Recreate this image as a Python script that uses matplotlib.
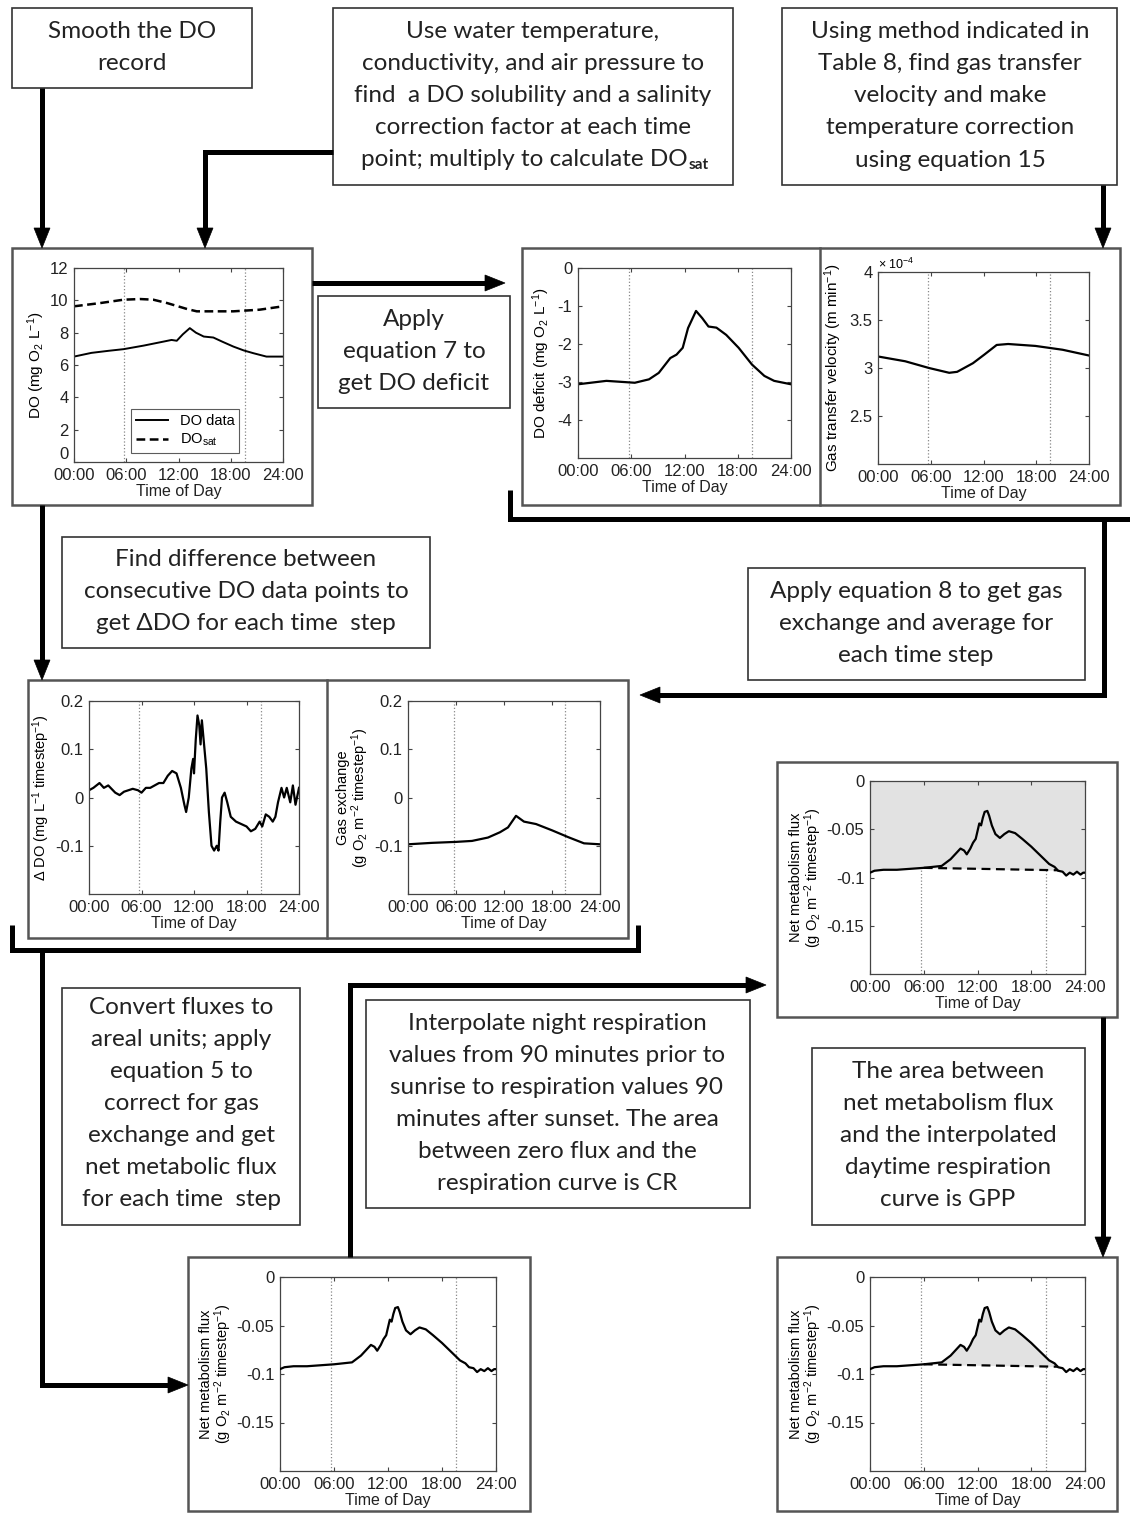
import numpy as np
import matplotlib
matplotlib.use('Agg')
import matplotlib.pyplot as plt
from matplotlib.patches import Rectangle, Polygon
from matplotlib.ticker import FuncFormatter

#=======================================
# Data
#=======================================
hour_ticks = [0, 6, 12, 18, 24]
hour_labels = ['00:00', '06:00', '12:00', '18:00', '24:00']
sun_t = [5.7, 19.6]   # sunrise / sunset dotted lines

# DO record and DO saturation (mg O2 / L)
do_t = [0, 2, 4, 5.7, 8, 10.3, 11.2, 11.8, 12.5, 13.3, 14, 14.9, 16, 17, 18.3, 19.5, 20.6, 22.1, 24]
do_v = [6.52, 6.75, 6.88, 6.98, 7.2, 7.45, 7.55, 7.5, 7.9, 8.28, 8.0, 7.76, 7.7, 7.45, 7.14, 6.9, 6.73, 6.52, 6.52]
sat_t = [0, 3, 5.7, 7.6, 9.1, 10.7, 13, 14.1, 18.3, 21.3, 24]
sat_v = [9.63, 9.83, 10.04, 10.08, 10.04, 9.83, 9.46, 9.32, 9.32, 9.42, 9.63]

# DO deficit (mg O2 / L)
df_t = [0, 3.2, 6.4, 8, 9.1, 10.4, 11.1, 11.8, 12.4, 13.3, 14, 14.7, 15.6, 16.7, 18.1, 19.6, 21, 22.1, 24]
df_v = [-3.06, -2.97, -3.02, -2.93, -2.76, -2.37, -2.28, -2.10, -1.58, -1.13, -1.32, -1.54, -1.57, -1.76, -2.10, -2.54, -2.84, -2.97, -3.06]

# gas transfer velocity (m / min)
k_t = [0, 3.1, 5.8, 8.1, 9, 10.8, 12.1, 13.5, 14.8, 17.9, 21, 24]
k_v = [3.12e-4, 3.07e-4, 3.00e-4, 2.95e-4, 2.96e-4, 3.05e-4, 3.14e-4, 3.24e-4, 3.25e-4, 3.23e-4, 3.19e-4, 3.13e-4]

# delta DO per timestep
dd_t = [0, 0.5, 1.2, 1.7, 2.2, 3, 3.5, 4, 5, 5.6, 6, 6.5, 7, 7.5, 8, 8.5, 9, 9.5, 10, 10.5,
        10.9, 11.1, 11.4, 11.7, 11.9, 12.0, 12.2, 12.4, 12.6, 12.75, 12.9, 13.1, 13.4, 13.7, 14.0,
        14.3, 14.6, 14.8, 15.0, 15.2, 15.5, 15.8, 16.2, 16.8, 17.4, 18.0, 18.5, 19.0, 19.5, 19.8,
        20.2, 20.6, 21.0, 21.3, 21.6, 22.0, 22.3, 22.6, 23.0, 23.3, 23.6, 24.0]
dd_v = [0.015, 0.02, 0.03, 0.02, 0.025, 0.01, 0.005, 0.012, 0.018, 0.015, 0.01, 0.02, 0.02, 0.025, 0.03, 0.03, 0.045, 0.055, 0.05, 0.02,
        -0.015, -0.03, 0.0, 0.06, 0.08, 0.05, 0.12, 0.17, 0.15, 0.11, 0.16, 0.12, 0.06, -0.03, -0.10,
        -0.11, -0.10, -0.11, -0.05, 0.0, 0.01, -0.01, -0.04, -0.05, -0.055, -0.06, -0.07, -0.065, -0.05, -0.06,
        -0.035, -0.04, -0.05, -0.04, -0.01, 0.02, 0.0, 0.02, -0.01, 0.025, -0.015, 0.02]

# gas exchange (g O2 / m2 / timestep)
ge_t = [0, 3, 6, 8, 10, 11.5, 12.5, 13.5, 14.5, 16, 18, 20, 22, 24]
ge_v = [-0.097, -0.094, -0.092, -0.090, -0.083, -0.072, -0.062, -0.038, -0.050, -0.055, -0.068, -0.082, -0.095, -0.097]

# net metabolism flux (g O2 / m2 / timestep)
nf_t = [0, 0.5, 1.5, 3, 4.5, 6, 7, 8, 9, 9.6, 10.1, 10.5, 10.8, 11.2, 11.5, 11.8, 12.0, 12.2, 12.4, 12.6,
        12.8, 13.1, 13.3, 13.6, 14.0, 14.5, 15.0, 15.5, 16.2, 17, 18, 19, 20, 20.6, 21.0, 21.5, 21.9,
        22.3, 22.7, 23.1, 23.5, 23.8, 24]
nf_v = [-0.095, -0.093, -0.092, -0.092, -0.091, -0.090, -0.089, -0.088, -0.081, -0.075, -0.070, -0.072, -0.076, -0.070, -0.064, -0.060, -0.052, -0.044, -0.046, -0.038,
        -0.032, -0.031, -0.036, -0.046, -0.055, -0.059, -0.055, -0.052, -0.054, -0.060, -0.068, -0.077, -0.086, -0.089, -0.093, -0.094, -0.098,
        -0.095, -0.097, -0.094, -0.097, -0.095, -0.095]

# interpolated daytime respiration (dashed line)
rs_t = [6.0, 21.0]
rs_v = [-0.0900, -0.0925]

#=======================================
# Figure setup
#=======================================
W, H = 1130, 1513
plt.rcParams['font.family'] = 'Liberation Sans'
plt.rcParams['mathtext.fontset'] = 'custom'
plt.rcParams['mathtext.rm'] = 'Liberation Sans'
plt.rcParams['mathtext.it'] = 'Liberation Sans:italic'
plt.rcParams['mathtext.default'] = 'regular'

fig = plt.figure(figsize=(W / 100, H / 100), dpi=100)
bg = fig.add_axes([0, 0, 1, 1])
bg.set_xlim(0, W)
bg.set_ylim(H, 0)
bg.axis('off')

BOX_FONT = 'Lato'
BOX_SIZE = 17.5
TXT = '#222222'


def frame(x0, y0, x1, y1, lw=1.2, ec='#333333'):
    bg.add_patch(Rectangle((x0, y0), x1 - x0, y1 - y0, fill=False, ec=ec, lw=lw))


def box_text(cx, y_first, lines, step=32.3, size=BOX_SIZE):
    out = []
    for i, s in enumerate(lines):
        out.append(bg.text(cx, y_first + i * step, s, ha='center', va='center',
                           fontsize=size, family=BOX_FONT, color=TXT))
    return out


def path(pts, head=True, lw=3.6):
    pts = [list(p) for p in pts]
    if head:
        (xa, ya), (xb, yb) = pts[-2], pts[-1]
        d = np.hypot(xb - xa, yb - ya)
        ux, uy = (xb - xa) / d, (yb - ya) / d
        L, hw = 20, 8
        bx, by = xb - ux * L, yb - uy * L
        bg.add_patch(Polygon([(xb, yb), (bx - uy * hw, by + ux * hw), (bx + uy * hw, by - ux * hw)],
                             closed=True, fc='k', ec='k', lw=0.5))
        pts[-1] = [bx + ux * 2, by + uy * 2]
    xs, ys = zip(*pts)
    bg.plot(xs, ys, color='k', lw=lw, solid_capstyle='butt', solid_joinstyle='miter')


def plot_ax(x0, y0, x1, y1):
    ax = fig.add_axes([x0 / W, 1 - y1 / H, (x1 - x0) / W, (y1 - y0) / H])
    ax.set_xlim(0, 24)
    ax.set_xticks(hour_ticks)
    ax.set_xticklabels(hour_labels)
    ax.tick_params(direction='in', top=True, right=True, labelsize=12, length=3,
                   pad=4, color='#444444', labelcolor='#222222')
    for sp in ax.spines.values():
        sp.set_color('#444444')
        sp.set_linewidth(0.9)
    ax.set_xlabel('Time of Day', fontsize=11.5, labelpad=1, color='#222222')
    for t in sun_t:
        ax.axvline(t, color='#888888', ls=':', lw=0.9, zorder=0)
    ax.yaxis.set_major_formatter(FuncFormatter(lambda v, p: '%g' % v))
    return ax


#=======================================
# Text boxes
#=======================================
frame(12, 8, 252, 88)
box_text(132, 32, ['Smooth the DO', 'record'], step=31)

frame(333, 8, 733, 185)
box_text(533, 31, ['Use water temperature,',
                   'conductivity, and air pressure to',
                   'find  a DO solubility and a salinity',
                   'correction factor at each time'])
last = bg.text(524, 160, 'point; multiply to calculate DO', ha='center', va='center',
               fontsize=BOX_SIZE, family=BOX_FONT, color=TXT)
bg.annotate('sat', xy=(1, 0), xycoords=last, xytext=(1, -1), textcoords='offset points',
            fontsize=11, family=BOX_FONT, weight='bold', color=TXT, ha='left', va='bottom')

frame(782, 8, 1117, 185)
box_text(950, 31, ['Using method indicated in', 'Table 8, find gas transfer',
                   'velocity and make', 'temperature correction', 'using equation 15'])

frame(318, 296, 510, 408)
box_text(414, 320, ['Apply', 'equation 7 to', 'get DO deficit'], step=31.5)

frame(62, 537, 430, 648)
box_text(246, 560, ['Find difference between', 'consecutive DO data points to',
                    'get \u0394DO for each time  step'], step=32)

frame(748, 568, 1085, 680)
box_text(916, 592, ['Apply equation 8 to get gas', 'exchange and average for',
                    'each time step'], step=32)

frame(62, 988, 300, 1225)
box_text(181, 1008, ['Convert fluxes to', 'areal units; apply', 'equation 5 to',
                     'correct for gas', 'exchange and get', 'net metabolic flux',
                     'for each time  step'], step=32)

frame(366, 1000, 750, 1208)
box_text(557, 1024, ['Interpolate night respiration', 'values from 90 minutes prior to',
                     'sunrise to respiration values 90', 'minutes after sunset. The area',
                     'between zero flux and the', 'respiration curve is CR'], step=32)

frame(812, 1048, 1085, 1225)
box_text(948, 1072, ['The area between', 'net metabolism flux', 'and the interpolated',
                     'daytime respiration', 'curve is GPP'], step=32)

#=======================================
# Panel frames
#=======================================
PF = dict(lw=1.8, ec='#555555')
frame(12, 248, 312, 505, **PF)
frame(522, 248, 1120, 505, **PF)
bg.plot([820, 820], [248, 505], color='#555555', lw=1.8)
frame(28, 680, 628, 938, **PF)
bg.plot([327, 327], [680, 938], color='#555555', lw=1.8)
frame(777, 762, 1117, 1017, **PF)
frame(188, 1257, 530, 1511, **PF)
frame(777, 1257, 1117, 1511, **PF)

#=======================================
# Arrows and brackets
#=======================================
path([(42, 88), (42, 248)])
path([(333, 152), (205, 152), (205, 248)])
path([(1103, 185), (1103, 248)])
path([(312, 283), (505, 283)])
path([(42, 505), (42, 680)])
path([(510, 490), (510, 519), (1130, 519)], head=False)
path([(1104, 519), (1104, 695), (640, 695)])
path([(12, 925), (12, 950), (638, 950), (638, 925)], head=False)
path([(42, 950), (42, 1385), (188, 1385)])
path([(350, 1257), (350, 985), (766, 985)])
path([(1103, 1017), (1103, 1257)])

#=======================================
# Plots
#=======================================
# DO and DO_sat
ax = plot_ax(74, 268, 283, 462)
ax.plot(do_t, do_v, color='k', lw=1.4, label='DO data')
ax.plot(sat_t, sat_v, color='k', lw=1.8, ls=(0, (3.5, 1.8)), label='DO$_{sat}$')
ax.set_ylim(0, 12)
ax.set_yticks([0, 2, 4, 6, 8, 10, 12])
ax.set_ylabel('DO (mg O$_2$ L$^{-1}$)', fontsize=11, labelpad=2)
fig.canvas.draw()
ax.get_yticklabels()[0].set_va('bottom')
leg = ax.legend(loc='lower left', bbox_to_anchor=(0.24, 0.01), fontsize=10.5, frameon=True,
                fancybox=False, handlelength=2.2, borderpad=0.3, labelspacing=0.3)
leg.get_frame().set_edgecolor('#333333')
leg.get_frame().set_linewidth(0.8)

# DO deficit
ax = plot_ax(578, 268, 791, 458)
ax.plot(df_t, df_v, color='k', lw=1.6)
ax.set_ylim(-5, 0)
ax.set_yticks([-4, -3, -2, -1, 0])
ax.set_ylabel('DO deficit (mg O$_2$ L$^{-1}$)', fontsize=11, labelpad=4)

# gas transfer velocity
ax = plot_ax(878, 272, 1089, 464)
ax.plot(k_t, k_v, color='k', lw=1.6)
ax.set_ylim(2e-4, 4e-4)
ax.set_yticks([2.5e-4, 3e-4, 3.5e-4, 4e-4])
ax.yaxis.set_major_formatter(FuncFormatter(lambda v, p: '%g' % round(v * 1e4, 3)))
ax.set_ylabel('Gas transfer velocity (m min$^{-1}$)', fontsize=11, labelpad=4)
ax.text(0.0, 1.0, '\u00d7 10$^{-4}$', transform=ax.transAxes, fontsize=9, ha='left', va='bottom')

# delta DO
ax = plot_ax(89, 701, 299, 894)
ax.plot(dd_t, dd_v, color='k', lw=1.6)
ax.set_ylim(-0.2, 0.2)
ax.set_yticks([-0.1, 0, 0.1, 0.2])
ax.set_ylabel('\u0394 DO (mg L$^{-1}$ timestep$^{-1}$)', fontsize=10.5, labelpad=2)

# gas exchange
ax = plot_ax(408, 701, 600, 894)
ax.plot(ge_t, ge_v, color='k', lw=1.6)
ax.set_ylim(-0.2, 0.2)
ax.set_yticks([-0.1, 0, 0.1, 0.2])
ax.set_ylabel('Gas exchange\n(g O$_2$ m$^{-2}$ timestep$^{-1}$)', fontsize=10.5, labelpad=2,
              linespacing=0.95)

# net metabolism panels
grid = np.linspace(0, 24, 1200)
flux_g = np.interp(grid, nf_t, nf_v)
day = (grid >= rs_t[0]) & (grid <= rs_t[1])
resp_g = np.where(day, np.interp(grid, rs_t, rs_v), flux_g)
NET_LABEL = 'Net metabolism flux\n(g O$_2$ m$^{-2}$ timestep$^{-1}$)'


def net_panel(x0, y0, x1, y1, mode):
    ax = plot_ax(x0, y0, x1, y1)
    if mode == 'cr':
        ax.fill_between(grid, 0, resp_g, color='#e2e2e2', lw=0, zorder=0.5)
    elif mode == 'gpp':
        ax.fill_between(grid, resp_g, flux_g, where=flux_g > resp_g, color='#e2e2e2',
                        lw=0, zorder=0.5)
    ax.plot(nf_t, nf_v, color='k', lw=1.6, zorder=3)
    if mode != 'plain':
        ax.plot(rs_t, rs_v, color='k', lw=1.6, ls=(0, (4, 2.5)), zorder=2)
    ax.set_ylim(-0.2, 0)
    ax.set_yticks([-0.15, -0.1, -0.05, 0])
    ax.set_ylabel(NET_LABEL, fontsize=10.5, labelpad=2, linespacing=0.95)
    return ax


net_panel(870, 781, 1085, 974, 'cr')
net_panel(280, 1277, 496, 1471, 'plain')
net_panel(870, 1277, 1085, 1471, 'gpp')

fig.savefig('out.png', dpi=100, facecolor='white')
